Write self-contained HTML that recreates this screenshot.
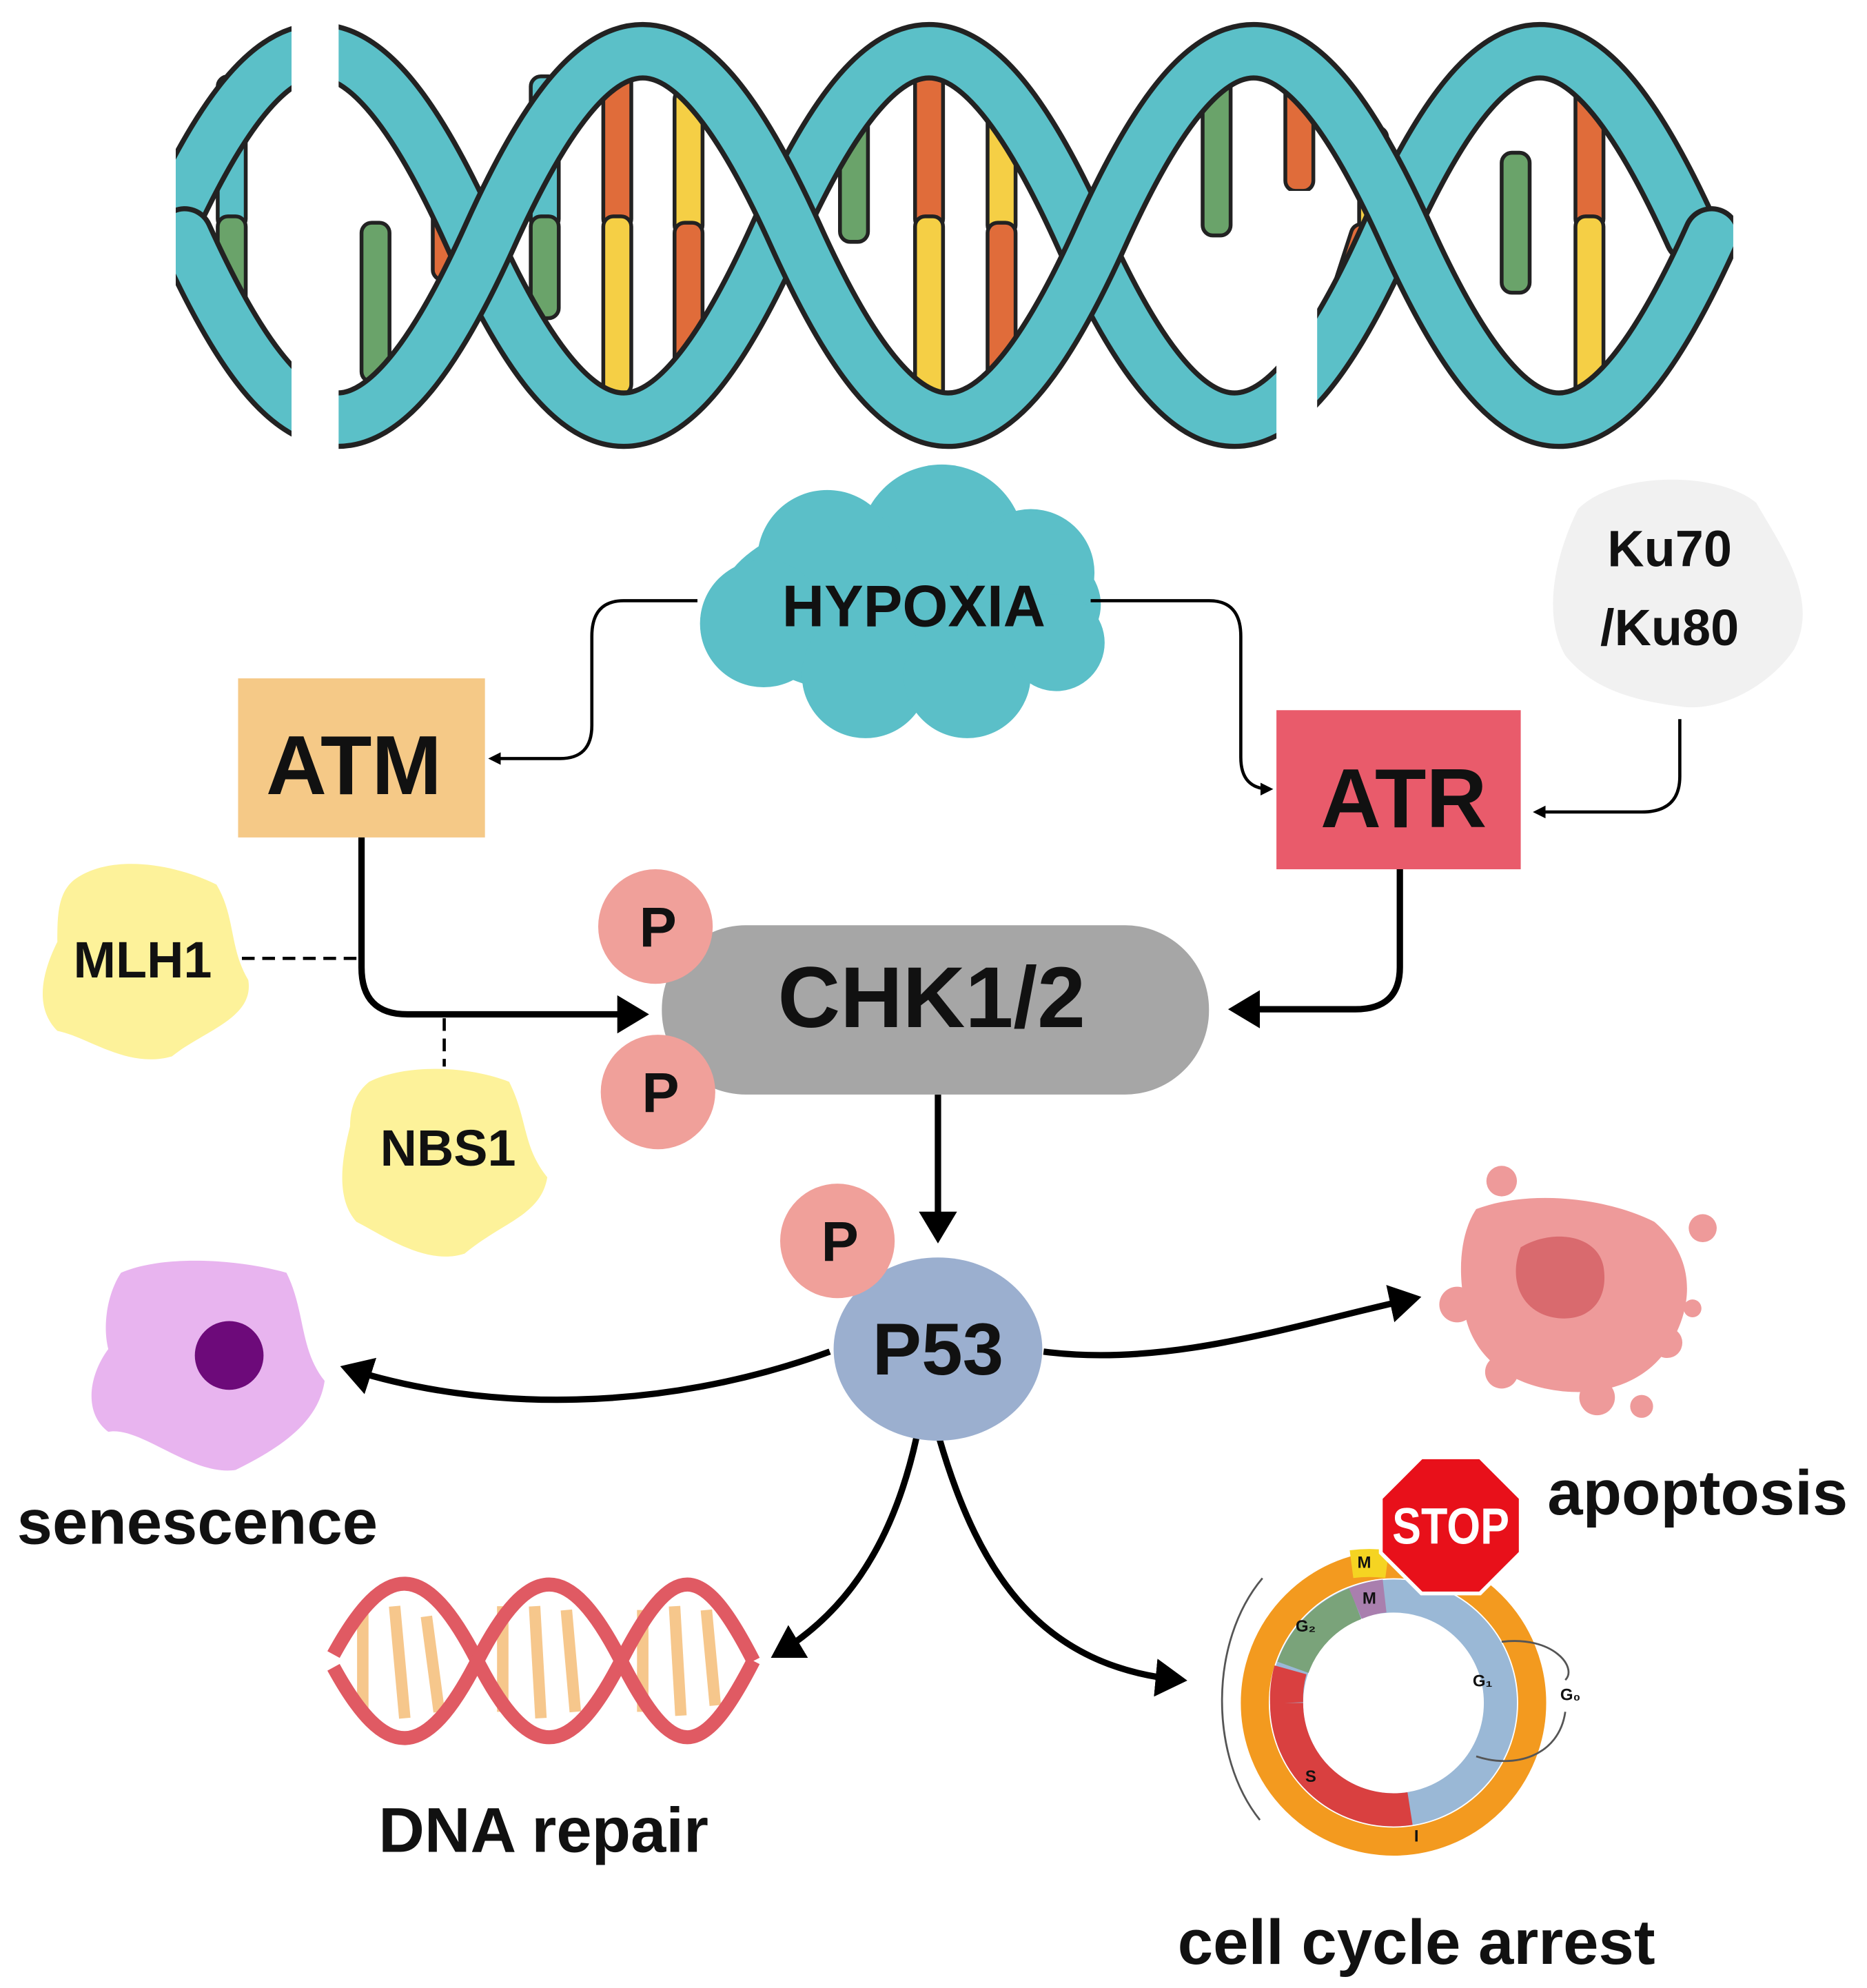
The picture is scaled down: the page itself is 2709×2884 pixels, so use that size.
<!DOCTYPE html>
<html><head><meta charset="utf-8"><style>
html,body{margin:0;padding:0;background:#fff}
svg{display:block}
text{font-family:"Liberation Sans",sans-serif;font-weight:bold;fill:#111}
</style></head><body>
<svg width="2709" height="2884" viewBox="0 0 1467 1562" xmlns="http://www.w3.org/2000/svg">
<defs>
<marker id="ah" markerWidth="6" markerHeight="6" refX="4" refY="3" orient="auto" markerUnits="strokeWidth"><path d="M0,0 L5,3 L0,6 z" fill="#000"/></marker>
<marker id="ah2" markerWidth="4" markerHeight="4" refX="3" refY="2" orient="auto" markerUnits="strokeWidth"><path d="M0,0 L4,2 L0,4 z" fill="#000"/></marker>
</defs>

<!-- Top DNA rungs -->
<g stroke="#222" stroke-width="3">
 <rect x="171" y="60" width="22" height="120" fill="#5bc0c8" rx="8"/><rect x="171" y="170" width="22" height="90" fill="#6aa36a" rx="8"/>
 <rect x="284" y="175" width="22" height="125" fill="#6aa36a" rx="8"/>
 <rect x="340" y="160" width="20" height="60" fill="#e06c3a" rx="8"/>
 <rect x="417" y="60" width="22" height="120" fill="#5bc0c8" rx="8"/><rect x="417" y="170" width="22" height="80" fill="#6aa36a" rx="8"/>
 <rect x="474" y="30" width="22" height="150" fill="#e06c3a" rx="8"/><rect x="474" y="170" width="22" height="140" fill="#f5cf45" rx="8"/>
 <rect x="530" y="70" width="22" height="115" fill="#f5cf45" rx="8"/><rect x="530" y="175" width="22" height="130" fill="#e06c3a" rx="8"/>
 <rect x="660" y="60" width="22" height="130" fill="#6aa36a" rx="8"/>
 <rect x="719" y="30" width="22" height="150" fill="#e06c3a" rx="8"/><rect x="719" y="170" width="22" height="150" fill="#f5cf45" rx="8"/>
 <rect x="776" y="80" width="22" height="105" fill="#f5cf45" rx="8"/><rect x="776" y="175" width="22" height="130" fill="#e06c3a" rx="8"/>
 <rect x="945" y="35" width="22" height="150" fill="#6aa36a" rx="8"/>
 <rect x="1010" y="40" width="22" height="110" fill="#e06c3a" rx="8"/>
 <rect x="1068" y="100" width="22" height="90" fill="#f5cf45" rx="8"/><rect x="1050" y="175" width="22" height="95" fill="#e06c3a" rx="8" transform="rotate(18 1060 220)"/>
 <rect x="1180" y="120" width="22" height="110" fill="#6aa36a" rx="8"/>
 <rect x="1238" y="35" width="22" height="145" fill="#e06c3a" rx="8"/><rect x="1238" y="170" width="22" height="160" fill="#f5cf45" rx="8"/>
</g>
<!-- Top DNA strands -->
<g fill="none" stroke-linecap="round">
 <path id="s1" d="M130,185 C217,-8 283,-8 370,185 S523,378 610,185 S763,-8 850,185 S1003,378 1090,185 S1243,-8 1330,185" stroke="#222" stroke-width="46"/>
 <path d="M130,185 C217,-8 283,-8 370,185 S523,378 610,185 S763,-8 850,185 S1003,378 1090,185 S1243,-8 1330,185" stroke="#5bc0c8" stroke-width="38"/>
 <path d="M145,185 C232,378 298,378 385,185 S538,-8 625,185 S778,378 865,185 S1018,-8 1105,185 S1258,378 1345,185" stroke="#222" stroke-width="46"/>
 <path d="M145,185 C232,378 298,378 385,185 S538,-8 625,185 S778,378 865,185 S1018,-8 1105,185 S1258,378 1345,185" stroke="#5bc0c8" stroke-width="38"/>
</g>
<rect x="0" y="0" width="138" height="360" fill="#fff"/>
<rect x="1362" y="0" width="105" height="360" fill="#fff"/>
<rect x="229" y="0" width="37" height="360" fill="#fff"/>
<rect x="1003" y="150" width="32" height="210" fill="#fff"/>

<!-- HYPOXIA cloud -->
<g fill="#5bbfc8">
 <ellipse cx="715" cy="475" rx="150" ry="75"/>
 <circle cx="740" cy="430" r="65"/><circle cx="650" cy="440" r="55"/><circle cx="810" cy="450" r="50"/>
 <circle cx="600" cy="490" r="50"/><circle cx="680" cy="530" r="50"/><circle cx="760" cy="530" r="50"/><circle cx="830" cy="505" r="38"/>
</g>
<text x="718" y="492" font-size="46" text-anchor="middle">HYPOXIA</text>

<!-- Ku blob -->
<path d="M1240,400 C1270,370 1350,370 1380,395 C1400,430 1430,470 1410,510 C1390,540 1350,560 1320,555 C1280,550 1250,540 1230,515 C1210,480 1225,430 1240,400 Z" fill="#f1f1f1"/>
<text x="1312" y="445" font-size="40" text-anchor="middle">Ku70</text>
<text x="1312" y="507" font-size="40" text-anchor="middle">/Ku80</text>

<!-- ATM / ATR -->
<rect x="187" y="533" width="194" height="125" fill="#f5c987"/>
<text x="278" y="624" font-size="66" text-anchor="middle">ATM</text>
<rect x="1003" y="558" width="192" height="125" fill="#e95b6b"/>
<text x="1103" y="650" font-size="66" text-anchor="middle">ATR</text>

<!-- thin connectors -->
<g fill="none" stroke="#000" stroke-width="2.5">
 <path d="M548,472 H490 Q465,472 465,500 V570 Q465,596 440,596 H386" marker-end="url(#ah2)"/>
 <path d="M857,472 H950 Q975,472 975,500 V595 Q975,620 998,620" marker-end="url(#ah2)"/>
 <path d="M1320,565 V610 Q1320,638 1290,638 H1207" marker-end="url(#ah2)"/>
 <path d="M190,753 H284" stroke-dasharray="10,6"/>
 <path d="M349,800 V838" stroke-dasharray="10,6"/>
</g>

<!-- MLH1 / NBS1 blobs -->
<path d="M60,690 C90,670 140,680 170,695 C185,720 180,745 195,770 C200,800 160,810 135,830 C100,840 70,815 45,810 C25,790 35,760 45,740 C45,720 45,700 60,690 Z" fill="#fdf29a"/>
<text x="112" y="768" font-size="40" text-anchor="middle">MLH1</text>
<path d="M290,850 C320,835 370,838 400,850 C415,880 410,900 430,925 C425,955 395,960 365,985 C335,995 300,970 280,960 C262,940 270,905 275,885 C275,870 280,858 290,850 Z" fill="#fdf29a"/>
<text x="352" y="916" font-size="40" text-anchor="middle">NBS1</text>

<!-- thick connectors -->
<g fill="none" stroke="#000" stroke-width="5">
 <path d="M284,658 V760 Q284,797 320,797 H505" marker-end="url(#ah)"/>
 <path d="M1100,683 V760 Q1100,793 1065,793 H970" marker-end="url(#ah)"/>
 <path d="M737,860 V972" marker-end="url(#ah)"/>
 <path d="M652,1062 C520,1110 380,1110 272,1075" marker-end="url(#ah)"/>
 <path d="M820,1062 C920,1075 1020,1040 1112,1020" marker-end="url(#ah)"/>
 <path d="M720,1130 C700,1220 660,1270 610,1300" marker-end="url(#ah)"/>
 <path d="M738,1130 C770,1240 820,1310 928,1320" marker-end="url(#ah)"/>
</g>

<!-- CHK pill -->
<rect x="520" y="727" width="430" height="133" rx="66" fill="#a6a6a6"/>
<text x="732" y="807" font-size="68" text-anchor="middle">CHK1/2</text>
<g fill="#f0a09a"><circle cx="515" cy="728" r="45"/><circle cx="517" cy="858" r="45"/></g>
<text x="517" y="744" font-size="44" text-anchor="middle">P</text>
<text x="519" y="874" font-size="44" text-anchor="middle">P</text>

<!-- P53 -->
<ellipse cx="737" cy="1060" rx="82" ry="72" fill="#9bafcf"/>
<circle cx="658" cy="975" r="45" fill="#f0a09a"/>
<text x="660" y="991" font-size="44" text-anchor="middle">P</text>
<text x="737" y="1080" font-size="58" text-anchor="middle">P53</text>

<!-- senescence -->
<path d="M95,1000 C130,985 190,990 225,1000 C240,1030 235,1060 255,1085 C250,1120 215,1140 185,1155 C150,1160 110,1120 85,1125 C65,1110 70,1080 85,1060 C80,1040 85,1015 95,1000 Z" fill="#e8b4ef"/>
<circle cx="180" cy="1065" r="27" fill="#6d0a7a"/>
<text x="155" y="1213" font-size="50" text-anchor="middle">senescence</text>

<!-- apoptosis -->
<g fill="#ee9a9a">
 <path d="M1160,950 C1200,935 1260,940 1300,960 C1335,990 1330,1030 1310,1060 C1290,1090 1250,1100 1210,1090 C1170,1080 1150,1050 1150,1020 C1145,990 1150,965 1160,950 Z"/>
 <circle cx="1180" cy="928" r="12"/><circle cx="1338" cy="965" r="11"/><circle cx="1145" cy="1025" r="14"/>
 <circle cx="1180" cy="1078" r="13"/><circle cx="1310" cy="1055" r="12"/><circle cx="1290" cy="1105" r="9"/><circle cx="1255" cy="1098" r="14"/><circle cx="1330" cy="1028" r="7"/>
</g>
<path d="M1195,980 C1220,965 1255,970 1260,995 C1265,1025 1245,1040 1220,1035 C1195,1030 1185,1005 1195,980 Z" fill="#d96a6e"/>
<text x="1334" y="1190" font-size="50" text-anchor="middle">apoptosis</text>

<!-- DNA repair helix -->
<g stroke="#f6c78c" stroke-width="9">
 <line x1="285" y1="1265" x2="285" y2="1345"/><line x1="310" y1="1262" x2="318" y2="1350"/><line x1="335" y1="1270" x2="345" y2="1345"/>
 <line x1="395" y1="1262" x2="395" y2="1345"/><line x1="420" y1="1262" x2="425" y2="1350"/><line x1="445" y1="1265" x2="452" y2="1345"/>
 <line x1="505" y1="1265" x2="505" y2="1345"/><line x1="530" y1="1262" x2="535" y2="1348"/><line x1="555" y1="1265" x2="562" y2="1340"/>
</g>
<g fill="none" stroke="#e05a63" stroke-width="11">
 <path d="M262,1300 C303,1225 334,1225 375,1305 S447,1385 488,1305 S551,1225 592,1305"/>
 <path d="M262,1310 C303,1385 334,1385 375,1305 S447,1225 488,1305 S551,1385 592,1305"/>
</g>
<text x="427" y="1455" font-size="50" text-anchor="middle">DNA repair</text>

<!-- cell cycle -->
<circle cx="1095" cy="1338" r="109" fill="none" stroke="#f39a1f" stroke-width="22"/>
<g fill="none" stroke-width="26">
 <circle cx="1095" cy="1338" r="84" stroke="#9ab8d6"/>
 <path d="M1011,1338 A84,84 0 0 0 1108,1421" stroke="#d94040"/>
 <path d="M1016,1310 A84,84 0 0 1 1065,1260" stroke="#7aa37a"/>
 <path d="M1065,1260 A84,84 0 0 1 1088,1254" stroke="#a97fae"/>
 <path d="M1014,1312 A84,84 0 0 0 1011,1338" stroke="#d94040"/>
</g>
<path d="M1062,1229 A109,109 0 0 1 1090,1229" fill="none" stroke="#f5d422" stroke-width="22"/>
<g font-size="13" text-anchor="middle"><text x="1072" y="1232">M</text><text x="1076" y="1260">M</text><text x="1026" y="1282">G₂</text><text x="1165" y="1325">G₁</text><text x="1234" y="1336">G₀</text><text x="1030" y="1400">S</text><text x="1113" y="1447">I</text></g>
<path d="M990,1430 C950,1380 950,1290 992,1240" fill="none" stroke="#555" stroke-width="1.5"/>
<path d="M1180,1290 C1220,1285 1240,1310 1230,1320 M1230,1345 C1225,1380 1190,1390 1160,1380" fill="none" stroke="#555" stroke-width="1.5"/>
<polygon points="1117,1145 1163,1145 1195,1177 1195,1220 1163,1252 1117,1252 1085,1220 1085,1177" fill="#e8101a" stroke="#fff" stroke-width="3"/>
<text x="1140" y="1213" font-size="40" text-anchor="middle" style="fill:#fff" textLength="92" lengthAdjust="spacingAndGlyphs">STOP</text>
<text x="1113" y="1543" font-size="50" text-anchor="middle">cell cycle arrest</text>
</svg>
</body></html>
